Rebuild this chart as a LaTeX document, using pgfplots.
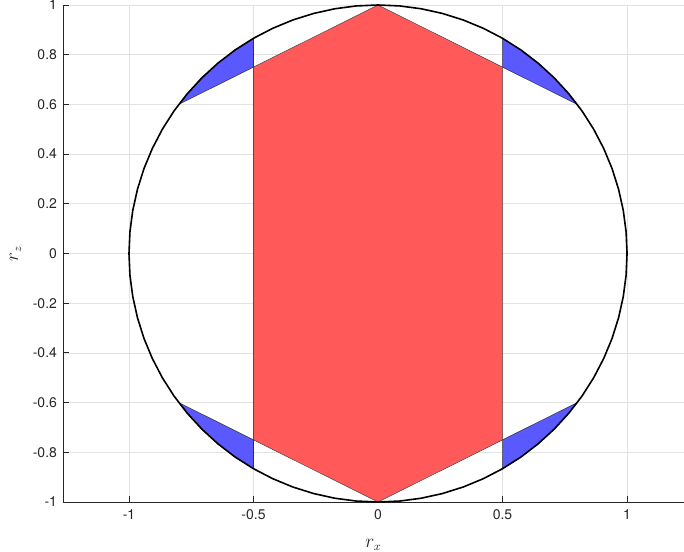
\documentclass[border=0pt]{standalone}
\usepackage{pgfplots}
\pgfplotsset{compat=1.18}
\usepackage{fontspec}
\setmainfont{TeX Gyre Heros}
\definecolor{redfill}{RGB}{255,89,89}
\definecolor{bluefill}{RGB}{89,89,255}
\definecolor{axgray}{RGB}{38,38,38}
\definecolor{gridgray}{RGB}{226,226,226}
\begin{document}
\begin{tikzpicture}
\begin{axis}[
  scale only axis,
  width=465.8pt, height=372.75pt,
  xmin=-1.265, xmax=1.229, ymin=-1, ymax=1,
  axis x line*=bottom, axis y line*=left,
  axis line style={axgray, line width=0.6pt},
  xtick={-1,-0.5,0,0.5,1},
  ytick={-1,-0.8,-0.6,-0.4,-0.2,0,0.2,0.4,0.6,0.8,1},
  grid=major,
  major grid style={gridgray, line width=0.5pt},
  major tick length=4.5pt,
  tick style={axgray, line width=0.6pt},
  tick align=inside,
  /pgf/number format/assume math mode=true,
  ticklabel style={font=\fontsize{10.5}{12}\selectfont, text=axgray},
  xticklabel style={yshift=-2pt},
  yticklabel style={xshift=-1pt},
  xlabel={$r_x$}, ylabel={$r_z$},
  label style={font=\fontsize{13.5}{15}\selectfont, text=axgray},
  xlabel style={yshift=-8pt},
  ylabel style={yshift=2pt},
  clip=false,
]
% red hexagon
\addplot[fill=redfill, draw=black!70, line width=0.4pt] coordinates {
 (0,1) (0.5,0.75) (0.5,-0.75) (0,-1) (-0.5,-0.75) (-0.5,0.75)} -- cycle;
% blue regions
\addplot[fill=bluefill, draw=black!80, line width=0.4pt] coordinates {
 (0.5,0.75) (0.5,0.8660) (0.5736,0.8192) (0.6428,0.7660) (0.7071,0.7071) (0.7660,0.6428) (0.8,0.6)} -- cycle;
\addplot[fill=bluefill, draw=black!80, line width=0.4pt] coordinates {
 (-0.5,0.75) (-0.5,0.8660) (-0.5736,0.8192) (-0.6428,0.7660) (-0.7071,0.7071) (-0.7660,0.6428) (-0.8,0.6)} -- cycle;
\addplot[fill=bluefill, draw=black!80, line width=0.4pt] coordinates {
 (0.5,-0.75) (0.5,-0.8660) (0.5736,-0.8192) (0.6428,-0.7660) (0.7071,-0.7071) (0.7660,-0.6428) (0.8,-0.6)} -- cycle;
\addplot[fill=bluefill, draw=black!80, line width=0.4pt] coordinates {
 (-0.5,-0.75) (-0.5,-0.8660) (-0.5736,-0.8192) (-0.6428,-0.7660) (-0.7071,-0.7071) (-0.7660,-0.6428) (-0.8,-0.6)} -- cycle;
% unit circle
\addplot[black, line width=1.2pt, line join=round] coordinates {
 (1,0) (0.9962,0.0872) (0.9848,0.1736) (0.9659,0.2588) (0.9397,0.3420) (0.9063,0.4226)
 (0.8660,0.5) (0.8192,0.5736) (0.7660,0.6428) (0.7071,0.7071) (0.6428,0.7660) (0.5736,0.8192)
 (0.5,0.8660) (0.4226,0.9063) (0.3420,0.9397) (0.2588,0.9659) (0.1736,0.9848) (0.0872,0.9962)
 (0,1) (-0.0872,0.9962) (-0.1736,0.9848) (-0.2588,0.9659) (-0.3420,0.9397) (-0.4226,0.9063)
 (-0.5,0.8660) (-0.5736,0.8192) (-0.6428,0.7660) (-0.7071,0.7071) (-0.7660,0.6428) (-0.8192,0.5736)
 (-0.8660,0.5) (-0.9063,0.4226) (-0.9397,0.3420) (-0.9659,0.2588) (-0.9848,0.1736) (-0.9962,0.0872)
 (-1,0) (-0.9962,-0.0872) (-0.9848,-0.1736) (-0.9659,-0.2588) (-0.9397,-0.3420) (-0.9063,-0.4226)
 (-0.8660,-0.5) (-0.8192,-0.5736) (-0.7660,-0.6428) (-0.7071,-0.7071) (-0.6428,-0.7660) (-0.5736,-0.8192)
 (-0.5,-0.8660) (-0.4226,-0.9063) (-0.3420,-0.9397) (-0.2588,-0.9659) (-0.1736,-0.9848) (-0.0872,-0.9962)
 (0,-1) (0.0872,-0.9962) (0.1736,-0.9848) (0.2588,-0.9659) (0.3420,-0.9397) (0.4226,-0.9063)
 (0.5,-0.8660) (0.5736,-0.8192) (0.6428,-0.7660) (0.7071,-0.7071) (0.7660,-0.6428) (0.8192,-0.5736)
 (0.8660,-0.5) (0.9063,-0.4226) (0.9397,-0.3420) (0.9659,-0.2588) (0.9848,-0.1736) (0.9962,-0.0872)
} -- cycle;
\end{axis}
\pgfresetboundingbox
\path (-47.25pt,-37.5pt) rectangle (465.75pt,376.5pt);
\end{tikzpicture}
\end{document}
